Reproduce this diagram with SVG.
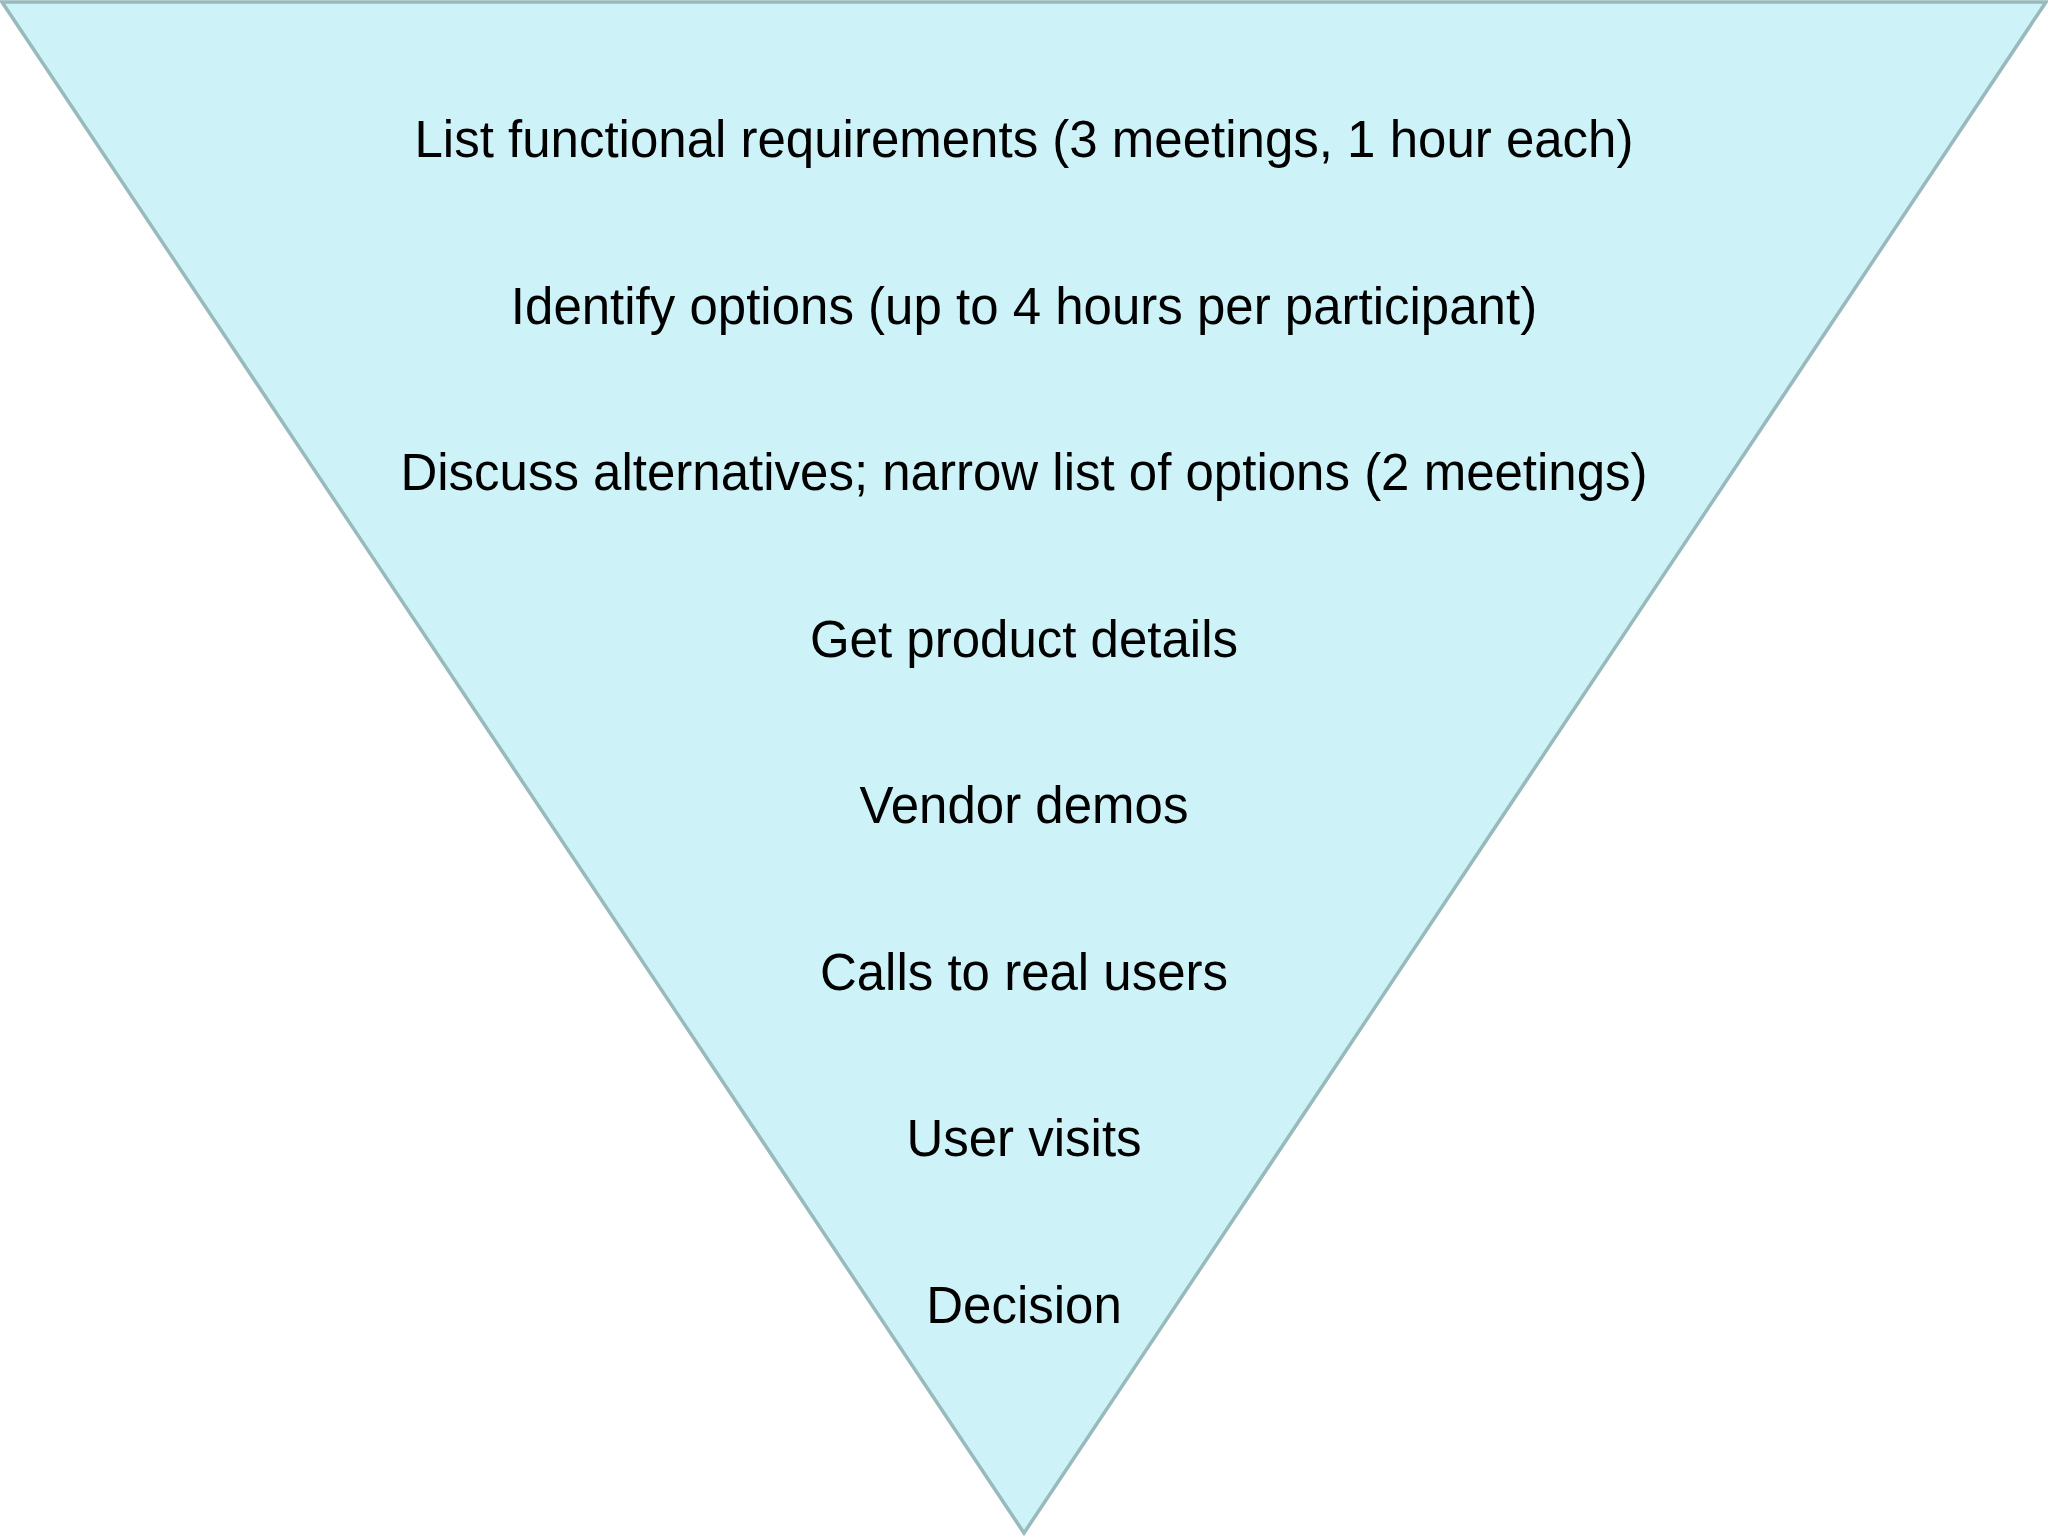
<svg xmlns="http://www.w3.org/2000/svg" width="2048" height="1536" viewBox="0 0 2048 1536">
<style>
.t{font-family:"Liberation Sans",Arial,sans-serif;font-size:51px;fill:#000;text-anchor:middle}
</style>
<rect width="2048" height="1536" fill="#ffffff"/>
<g id="funnel">
<polygon points="2,2 2046,2 1024,1533" fill="#cdf3f8" stroke="#98babd" stroke-width="3.5" stroke-linejoin="miter"/>
</g>
<g id="labels">
<g id="step1"><text class="t" x="1024" y="157">List functional requirements (3 meetings, 1 hour each)</text></g>
<g id="step2"><text class="t" x="1024" y="324">Identify options (up to 4 hours per participant)</text></g>
<g id="step3"><text class="t" x="1024" y="490">Discuss alternatives; narrow list of options (2 meetings)</text></g>
<g id="step4"><text class="t" x="1024" y="657">Get product details</text></g>
<g id="step5"><text class="t" x="1024" y="823">Vendor demos</text></g>
<g id="step6"><text class="t" x="1024" y="990">Calls to real users</text></g>
<g id="step7"><text class="t" x="1024" y="1156">User visits</text></g>
<g id="step8"><text class="t" x="1024" y="1323">Decision</text></g>
</g>
</svg>
